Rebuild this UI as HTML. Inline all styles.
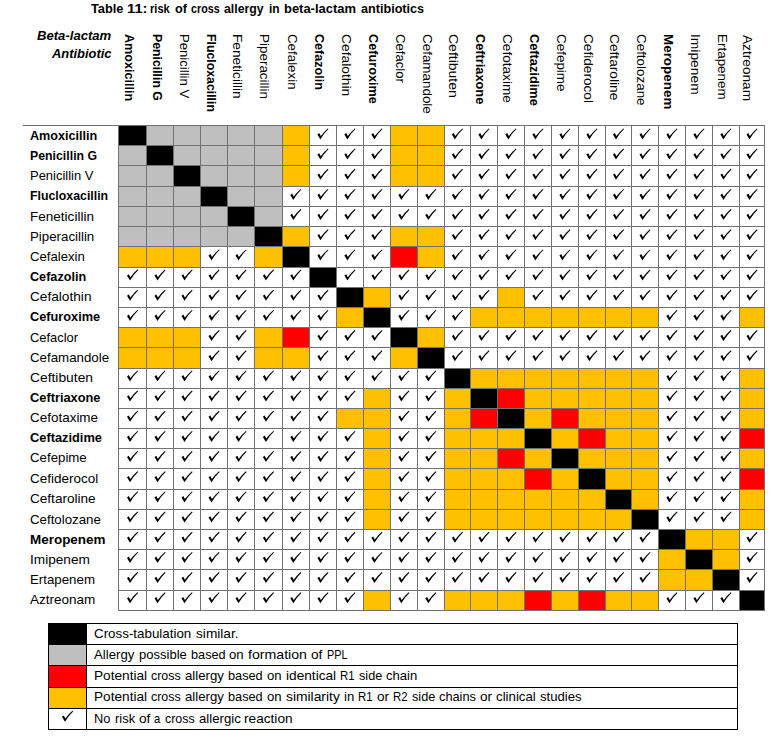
<!DOCTYPE html>
<html><head><meta charset="utf-8"><title>Table 11</title>
<style>
html,body{margin:0;padding:0;background:#fff}
body{width:775px;height:741px;position:relative;overflow:hidden;font-family:"Liberation Sans",sans-serif;font-size:13px;line-height:15px;color:#000}
.t{position:absolute;white-space:nowrap;transform-origin:0 0}
.b{font-weight:bold}
.bi{font-weight:bold;font-style:italic}
svg{position:absolute;left:0;top:0}
</style></head><body>
<svg width="775" height="741" viewBox="0 0 775 741">
<defs><path id="ck" d="M0 5.7 L1.8 4.4 L3.4 7.4 Q6.7 2.9 10.4 -0.3 L11.1 0.4 Q6.9 4.3 3.0 10.7 Z"/></defs>
<g shape-rendering="crispEdges">
<rect x="119" y="126" width="27" height="19" fill="#000"/>
<rect x="147" y="126" width="26" height="19" fill="#bfbfbf"/>
<rect x="174" y="126" width="26" height="19" fill="#bfbfbf"/>
<rect x="201" y="126" width="26" height="19" fill="#bfbfbf"/>
<rect x="228" y="126" width="26" height="19" fill="#bfbfbf"/>
<rect x="255" y="126" width="27" height="19" fill="#bfbfbf"/>
<rect x="283" y="126" width="26" height="19" fill="#ffc000"/>
<rect x="391" y="126" width="26" height="19" fill="#ffc000"/>
<rect x="418" y="126" width="26" height="19" fill="#ffc000"/>
<rect x="119" y="146" width="27" height="19" fill="#bfbfbf"/>
<rect x="147" y="146" width="26" height="19" fill="#000"/>
<rect x="174" y="146" width="26" height="19" fill="#bfbfbf"/>
<rect x="201" y="146" width="26" height="19" fill="#bfbfbf"/>
<rect x="228" y="146" width="26" height="19" fill="#bfbfbf"/>
<rect x="255" y="146" width="27" height="19" fill="#bfbfbf"/>
<rect x="283" y="146" width="26" height="19" fill="#ffc000"/>
<rect x="391" y="146" width="26" height="19" fill="#ffc000"/>
<rect x="418" y="146" width="26" height="19" fill="#ffc000"/>
<rect x="119" y="166" width="27" height="20" fill="#bfbfbf"/>
<rect x="147" y="166" width="26" height="20" fill="#bfbfbf"/>
<rect x="174" y="166" width="26" height="20" fill="#000"/>
<rect x="201" y="166" width="26" height="20" fill="#bfbfbf"/>
<rect x="228" y="166" width="26" height="20" fill="#bfbfbf"/>
<rect x="255" y="166" width="27" height="20" fill="#bfbfbf"/>
<rect x="283" y="166" width="26" height="20" fill="#ffc000"/>
<rect x="391" y="166" width="26" height="20" fill="#ffc000"/>
<rect x="418" y="166" width="26" height="20" fill="#ffc000"/>
<rect x="119" y="187" width="27" height="19" fill="#bfbfbf"/>
<rect x="147" y="187" width="26" height="19" fill="#bfbfbf"/>
<rect x="174" y="187" width="26" height="19" fill="#bfbfbf"/>
<rect x="201" y="187" width="26" height="19" fill="#000"/>
<rect x="228" y="187" width="26" height="19" fill="#bfbfbf"/>
<rect x="255" y="187" width="27" height="19" fill="#bfbfbf"/>
<rect x="119" y="207" width="27" height="19" fill="#bfbfbf"/>
<rect x="147" y="207" width="26" height="19" fill="#bfbfbf"/>
<rect x="174" y="207" width="26" height="19" fill="#bfbfbf"/>
<rect x="201" y="207" width="26" height="19" fill="#bfbfbf"/>
<rect x="228" y="207" width="26" height="19" fill="#000"/>
<rect x="255" y="207" width="27" height="19" fill="#bfbfbf"/>
<rect x="119" y="227" width="27" height="19" fill="#bfbfbf"/>
<rect x="147" y="227" width="26" height="19" fill="#bfbfbf"/>
<rect x="174" y="227" width="26" height="19" fill="#bfbfbf"/>
<rect x="201" y="227" width="26" height="19" fill="#bfbfbf"/>
<rect x="228" y="227" width="26" height="19" fill="#bfbfbf"/>
<rect x="255" y="227" width="27" height="19" fill="#000"/>
<rect x="283" y="227" width="26" height="19" fill="#ffc000"/>
<rect x="391" y="227" width="26" height="19" fill="#ffc000"/>
<rect x="418" y="227" width="26" height="19" fill="#ffc000"/>
<rect x="119" y="247" width="27" height="20" fill="#ffc000"/>
<rect x="147" y="247" width="26" height="20" fill="#ffc000"/>
<rect x="174" y="247" width="26" height="20" fill="#ffc000"/>
<rect x="255" y="247" width="27" height="20" fill="#ffc000"/>
<rect x="283" y="247" width="26" height="20" fill="#000"/>
<rect x="391" y="247" width="26" height="20" fill="#ff0000"/>
<rect x="418" y="247" width="26" height="20" fill="#ffc000"/>
<rect x="310" y="268" width="26" height="19" fill="#000"/>
<rect x="337" y="288" width="26" height="19" fill="#000"/>
<rect x="364" y="288" width="26" height="19" fill="#ffc000"/>
<rect x="498" y="288" width="26" height="19" fill="#ffc000"/>
<rect x="337" y="308" width="26" height="19" fill="#ffc000"/>
<rect x="364" y="308" width="26" height="19" fill="#000"/>
<rect x="471" y="308" width="26" height="19" fill="#ffc000"/>
<rect x="498" y="308" width="26" height="19" fill="#ffc000"/>
<rect x="525" y="308" width="26" height="19" fill="#ffc000"/>
<rect x="552" y="308" width="26" height="19" fill="#ffc000"/>
<rect x="579" y="308" width="26" height="19" fill="#ffc000"/>
<rect x="606" y="308" width="25" height="19" fill="#ffc000"/>
<rect x="632" y="308" width="26" height="19" fill="#ffc000"/>
<rect x="740" y="308" width="24" height="19" fill="#ffc000"/>
<rect x="119" y="328" width="27" height="19" fill="#ffc000"/>
<rect x="147" y="328" width="26" height="19" fill="#ffc000"/>
<rect x="174" y="328" width="26" height="19" fill="#ffc000"/>
<rect x="255" y="328" width="27" height="19" fill="#ffc000"/>
<rect x="283" y="328" width="26" height="19" fill="#ff0000"/>
<rect x="391" y="328" width="26" height="19" fill="#000"/>
<rect x="418" y="328" width="26" height="19" fill="#ffc000"/>
<rect x="119" y="348" width="27" height="20" fill="#ffc000"/>
<rect x="147" y="348" width="26" height="20" fill="#ffc000"/>
<rect x="174" y="348" width="26" height="20" fill="#ffc000"/>
<rect x="255" y="348" width="27" height="20" fill="#ffc000"/>
<rect x="283" y="348" width="26" height="20" fill="#ffc000"/>
<rect x="391" y="348" width="26" height="20" fill="#ffc000"/>
<rect x="418" y="348" width="26" height="20" fill="#000"/>
<rect x="445" y="369" width="25" height="19" fill="#000"/>
<rect x="471" y="369" width="26" height="19" fill="#ffc000"/>
<rect x="498" y="369" width="26" height="19" fill="#ffc000"/>
<rect x="525" y="369" width="26" height="19" fill="#ffc000"/>
<rect x="552" y="369" width="26" height="19" fill="#ffc000"/>
<rect x="579" y="369" width="26" height="19" fill="#ffc000"/>
<rect x="606" y="369" width="25" height="19" fill="#ffc000"/>
<rect x="632" y="369" width="26" height="19" fill="#ffc000"/>
<rect x="740" y="369" width="24" height="19" fill="#ffc000"/>
<rect x="364" y="389" width="26" height="19" fill="#ffc000"/>
<rect x="445" y="389" width="25" height="19" fill="#ffc000"/>
<rect x="471" y="389" width="26" height="19" fill="#000"/>
<rect x="498" y="389" width="26" height="19" fill="#ff0000"/>
<rect x="525" y="389" width="26" height="19" fill="#ffc000"/>
<rect x="552" y="389" width="26" height="19" fill="#ffc000"/>
<rect x="579" y="389" width="26" height="19" fill="#ffc000"/>
<rect x="606" y="389" width="25" height="19" fill="#ffc000"/>
<rect x="632" y="389" width="26" height="19" fill="#ffc000"/>
<rect x="740" y="389" width="24" height="19" fill="#ffc000"/>
<rect x="337" y="409" width="26" height="19" fill="#ffc000"/>
<rect x="364" y="409" width="26" height="19" fill="#ffc000"/>
<rect x="445" y="409" width="25" height="19" fill="#ffc000"/>
<rect x="471" y="409" width="26" height="19" fill="#ff0000"/>
<rect x="498" y="409" width="26" height="19" fill="#000"/>
<rect x="525" y="409" width="26" height="19" fill="#ffc000"/>
<rect x="552" y="409" width="26" height="19" fill="#ff0000"/>
<rect x="579" y="409" width="26" height="19" fill="#ffc000"/>
<rect x="606" y="409" width="25" height="19" fill="#ffc000"/>
<rect x="632" y="409" width="26" height="19" fill="#ffc000"/>
<rect x="740" y="409" width="24" height="19" fill="#ffc000"/>
<rect x="364" y="429" width="26" height="19" fill="#ffc000"/>
<rect x="445" y="429" width="25" height="19" fill="#ffc000"/>
<rect x="471" y="429" width="26" height="19" fill="#ffc000"/>
<rect x="498" y="429" width="26" height="19" fill="#ffc000"/>
<rect x="525" y="429" width="26" height="19" fill="#000"/>
<rect x="552" y="429" width="26" height="19" fill="#ffc000"/>
<rect x="579" y="429" width="26" height="19" fill="#ff0000"/>
<rect x="606" y="429" width="25" height="19" fill="#ffc000"/>
<rect x="632" y="429" width="26" height="19" fill="#ffc000"/>
<rect x="740" y="429" width="24" height="19" fill="#ff0000"/>
<rect x="364" y="449" width="26" height="19" fill="#ffc000"/>
<rect x="445" y="449" width="25" height="19" fill="#ffc000"/>
<rect x="471" y="449" width="26" height="19" fill="#ffc000"/>
<rect x="498" y="449" width="26" height="19" fill="#ff0000"/>
<rect x="525" y="449" width="26" height="19" fill="#ffc000"/>
<rect x="552" y="449" width="26" height="19" fill="#000"/>
<rect x="579" y="449" width="26" height="19" fill="#ffc000"/>
<rect x="606" y="449" width="25" height="19" fill="#ffc000"/>
<rect x="632" y="449" width="26" height="19" fill="#ffc000"/>
<rect x="740" y="449" width="24" height="19" fill="#ffc000"/>
<rect x="364" y="469" width="26" height="20" fill="#ffc000"/>
<rect x="445" y="469" width="25" height="20" fill="#ffc000"/>
<rect x="471" y="469" width="26" height="20" fill="#ffc000"/>
<rect x="498" y="469" width="26" height="20" fill="#ffc000"/>
<rect x="525" y="469" width="26" height="20" fill="#ff0000"/>
<rect x="552" y="469" width="26" height="20" fill="#ffc000"/>
<rect x="579" y="469" width="26" height="20" fill="#000"/>
<rect x="606" y="469" width="25" height="20" fill="#ffc000"/>
<rect x="632" y="469" width="26" height="20" fill="#ffc000"/>
<rect x="740" y="469" width="24" height="20" fill="#ff0000"/>
<rect x="364" y="490" width="26" height="19" fill="#ffc000"/>
<rect x="445" y="490" width="25" height="19" fill="#ffc000"/>
<rect x="471" y="490" width="26" height="19" fill="#ffc000"/>
<rect x="498" y="490" width="26" height="19" fill="#ffc000"/>
<rect x="525" y="490" width="26" height="19" fill="#ffc000"/>
<rect x="552" y="490" width="26" height="19" fill="#ffc000"/>
<rect x="579" y="490" width="26" height="19" fill="#ffc000"/>
<rect x="606" y="490" width="25" height="19" fill="#000"/>
<rect x="632" y="490" width="26" height="19" fill="#ffc000"/>
<rect x="740" y="490" width="24" height="19" fill="#ffc000"/>
<rect x="364" y="510" width="26" height="19" fill="#ffc000"/>
<rect x="445" y="510" width="25" height="19" fill="#ffc000"/>
<rect x="471" y="510" width="26" height="19" fill="#ffc000"/>
<rect x="498" y="510" width="26" height="19" fill="#ffc000"/>
<rect x="525" y="510" width="26" height="19" fill="#ffc000"/>
<rect x="552" y="510" width="26" height="19" fill="#ffc000"/>
<rect x="579" y="510" width="26" height="19" fill="#ffc000"/>
<rect x="606" y="510" width="25" height="19" fill="#ffc000"/>
<rect x="632" y="510" width="26" height="19" fill="#000"/>
<rect x="740" y="510" width="24" height="19" fill="#ffc000"/>
<rect x="659" y="530" width="26" height="19" fill="#000"/>
<rect x="686" y="530" width="26" height="19" fill="#ffc000"/>
<rect x="713" y="530" width="26" height="19" fill="#ffc000"/>
<rect x="659" y="550" width="26" height="19" fill="#ffc000"/>
<rect x="686" y="550" width="26" height="19" fill="#000"/>
<rect x="713" y="550" width="26" height="19" fill="#ffc000"/>
<rect x="659" y="570" width="26" height="20" fill="#ffc000"/>
<rect x="686" y="570" width="26" height="20" fill="#ffc000"/>
<rect x="713" y="570" width="26" height="20" fill="#000"/>
<rect x="364" y="591" width="26" height="19" fill="#ffc000"/>
<rect x="445" y="591" width="25" height="19" fill="#ffc000"/>
<rect x="471" y="591" width="26" height="19" fill="#ffc000"/>
<rect x="498" y="591" width="26" height="19" fill="#ffc000"/>
<rect x="525" y="591" width="26" height="19" fill="#ff0000"/>
<rect x="552" y="591" width="26" height="19" fill="#ffc000"/>
<rect x="579" y="591" width="26" height="19" fill="#ff0000"/>
<rect x="606" y="591" width="25" height="19" fill="#ffc000"/>
<rect x="632" y="591" width="26" height="19" fill="#ffc000"/>
<rect x="740" y="591" width="24" height="19" fill="#000"/>
<rect x="118" y="125" width="1" height="486" fill="#727272"/>
<rect x="146" y="125" width="1" height="486" fill="#727272"/>
<rect x="173" y="125" width="1" height="486" fill="#727272"/>
<rect x="200" y="125" width="1" height="486" fill="#727272"/>
<rect x="227" y="125" width="1" height="486" fill="#727272"/>
<rect x="254" y="125" width="1" height="486" fill="#727272"/>
<rect x="282" y="125" width="1" height="486" fill="#727272"/>
<rect x="309" y="125" width="1" height="486" fill="#727272"/>
<rect x="336" y="125" width="1" height="486" fill="#727272"/>
<rect x="363" y="125" width="1" height="486" fill="#727272"/>
<rect x="390" y="125" width="1" height="486" fill="#727272"/>
<rect x="417" y="125" width="1" height="486" fill="#727272"/>
<rect x="444" y="125" width="1" height="486" fill="#727272"/>
<rect x="470" y="125" width="1" height="486" fill="#727272"/>
<rect x="497" y="125" width="1" height="486" fill="#727272"/>
<rect x="524" y="125" width="1" height="486" fill="#727272"/>
<rect x="551" y="125" width="1" height="486" fill="#727272"/>
<rect x="578" y="125" width="1" height="486" fill="#727272"/>
<rect x="605" y="125" width="1" height="486" fill="#727272"/>
<rect x="631" y="125" width="1" height="486" fill="#727272"/>
<rect x="658" y="125" width="1" height="486" fill="#727272"/>
<rect x="685" y="125" width="1" height="486" fill="#727272"/>
<rect x="712" y="125" width="1" height="486" fill="#727272"/>
<rect x="739" y="125" width="1" height="486" fill="#727272"/>
<rect x="764" y="125" width="1" height="486" fill="#727272"/>
<rect x="23" y="125" width="742" height="1" fill="#727272"/>
<rect x="118" y="145" width="647" height="1" fill="#727272"/>
<rect x="118" y="165" width="647" height="1" fill="#727272"/>
<rect x="118" y="186" width="647" height="1" fill="#727272"/>
<rect x="118" y="206" width="647" height="1" fill="#727272"/>
<rect x="118" y="226" width="647" height="1" fill="#727272"/>
<rect x="118" y="246" width="647" height="1" fill="#727272"/>
<rect x="118" y="267" width="647" height="1" fill="#727272"/>
<rect x="118" y="287" width="647" height="1" fill="#727272"/>
<rect x="118" y="307" width="647" height="1" fill="#727272"/>
<rect x="118" y="327" width="647" height="1" fill="#727272"/>
<rect x="118" y="347" width="647" height="1" fill="#727272"/>
<rect x="118" y="368" width="647" height="1" fill="#727272"/>
<rect x="118" y="388" width="647" height="1" fill="#727272"/>
<rect x="118" y="408" width="647" height="1" fill="#727272"/>
<rect x="118" y="428" width="647" height="1" fill="#727272"/>
<rect x="118" y="448" width="647" height="1" fill="#727272"/>
<rect x="118" y="468" width="647" height="1" fill="#727272"/>
<rect x="118" y="489" width="647" height="1" fill="#727272"/>
<rect x="118" y="509" width="647" height="1" fill="#727272"/>
<rect x="118" y="529" width="647" height="1" fill="#727272"/>
<rect x="118" y="549" width="647" height="1" fill="#727272"/>
<rect x="118" y="569" width="647" height="1" fill="#727272"/>
<rect x="118" y="590" width="647" height="1" fill="#727272"/>
<rect x="118" y="610" width="647" height="1" fill="#727272"/>
<rect x="49" y="624" width="37" height="20" fill="#000"/>
<rect x="49" y="645" width="37" height="20" fill="#bfbfbf"/>
<rect x="49" y="666" width="37" height="21" fill="#ff0000"/>
<rect x="49" y="688" width="37" height="20" fill="#ffc000"/>
<rect x="48" y="623" width="1" height="107" fill="#000"/>
<rect x="86" y="623" width="1" height="107" fill="#000"/>
<rect x="737" y="623" width="1" height="107" fill="#000"/>
<rect x="48" y="623" width="690" height="1" fill="#000"/>
<rect x="48" y="644" width="690" height="1" fill="#000"/>
<rect x="48" y="665" width="690" height="1" fill="#000"/>
<rect x="48" y="687" width="690" height="1" fill="#000"/>
<rect x="48" y="708" width="690" height="1" fill="#000"/>
<rect x="48" y="729" width="690" height="1" fill="#000"/>
</g>
<g fill="#000">
<use href="#ck" x="317.4" y="128.7"/>
<use href="#ck" x="344.4" y="128.7"/>
<use href="#ck" x="371.4" y="128.7"/>
<use href="#ck" x="451.9" y="128.7"/>
<use href="#ck" x="478.4" y="128.7"/>
<use href="#ck" x="505.4" y="128.7"/>
<use href="#ck" x="532.4" y="128.7"/>
<use href="#ck" x="559.4" y="128.7"/>
<use href="#ck" x="586.4" y="128.7"/>
<use href="#ck" x="613.0" y="128.7"/>
<use href="#ck" x="639.5" y="128.7"/>
<use href="#ck" x="666.4" y="128.7"/>
<use href="#ck" x="693.4" y="128.7"/>
<use href="#ck" x="720.4" y="128.7"/>
<use href="#ck" x="746.5" y="128.7"/>
<use href="#ck" x="317.4" y="148.9"/>
<use href="#ck" x="344.4" y="148.9"/>
<use href="#ck" x="371.4" y="148.9"/>
<use href="#ck" x="451.9" y="148.9"/>
<use href="#ck" x="478.4" y="148.9"/>
<use href="#ck" x="505.4" y="148.9"/>
<use href="#ck" x="532.4" y="148.9"/>
<use href="#ck" x="559.4" y="148.9"/>
<use href="#ck" x="586.4" y="148.9"/>
<use href="#ck" x="613.0" y="148.9"/>
<use href="#ck" x="639.5" y="148.9"/>
<use href="#ck" x="666.4" y="148.9"/>
<use href="#ck" x="693.4" y="148.9"/>
<use href="#ck" x="720.4" y="148.9"/>
<use href="#ck" x="746.5" y="148.9"/>
<use href="#ck" x="317.4" y="169.0"/>
<use href="#ck" x="344.4" y="169.0"/>
<use href="#ck" x="371.4" y="169.0"/>
<use href="#ck" x="451.9" y="169.0"/>
<use href="#ck" x="478.4" y="169.0"/>
<use href="#ck" x="505.4" y="169.0"/>
<use href="#ck" x="532.4" y="169.0"/>
<use href="#ck" x="559.4" y="169.0"/>
<use href="#ck" x="586.4" y="169.0"/>
<use href="#ck" x="613.0" y="169.0"/>
<use href="#ck" x="639.5" y="169.0"/>
<use href="#ck" x="666.4" y="169.0"/>
<use href="#ck" x="693.4" y="169.0"/>
<use href="#ck" x="720.4" y="169.0"/>
<use href="#ck" x="746.5" y="169.0"/>
<use href="#ck" x="290.3" y="189.2"/>
<use href="#ck" x="317.4" y="189.2"/>
<use href="#ck" x="344.4" y="189.2"/>
<use href="#ck" x="371.4" y="189.2"/>
<use href="#ck" x="398.3" y="189.2"/>
<use href="#ck" x="425.3" y="189.2"/>
<use href="#ck" x="451.9" y="189.2"/>
<use href="#ck" x="478.4" y="189.2"/>
<use href="#ck" x="505.4" y="189.2"/>
<use href="#ck" x="532.4" y="189.2"/>
<use href="#ck" x="559.4" y="189.2"/>
<use href="#ck" x="586.4" y="189.2"/>
<use href="#ck" x="613.0" y="189.2"/>
<use href="#ck" x="639.5" y="189.2"/>
<use href="#ck" x="666.4" y="189.2"/>
<use href="#ck" x="693.4" y="189.2"/>
<use href="#ck" x="720.4" y="189.2"/>
<use href="#ck" x="746.5" y="189.2"/>
<use href="#ck" x="290.3" y="209.4"/>
<use href="#ck" x="317.4" y="209.4"/>
<use href="#ck" x="344.4" y="209.4"/>
<use href="#ck" x="371.4" y="209.4"/>
<use href="#ck" x="398.3" y="209.4"/>
<use href="#ck" x="425.3" y="209.4"/>
<use href="#ck" x="451.9" y="209.4"/>
<use href="#ck" x="478.4" y="209.4"/>
<use href="#ck" x="505.4" y="209.4"/>
<use href="#ck" x="532.4" y="209.4"/>
<use href="#ck" x="559.4" y="209.4"/>
<use href="#ck" x="586.4" y="209.4"/>
<use href="#ck" x="613.0" y="209.4"/>
<use href="#ck" x="639.5" y="209.4"/>
<use href="#ck" x="666.4" y="209.4"/>
<use href="#ck" x="693.4" y="209.4"/>
<use href="#ck" x="720.4" y="209.4"/>
<use href="#ck" x="746.5" y="209.4"/>
<use href="#ck" x="317.4" y="229.5"/>
<use href="#ck" x="344.4" y="229.5"/>
<use href="#ck" x="371.4" y="229.5"/>
<use href="#ck" x="451.9" y="229.5"/>
<use href="#ck" x="478.4" y="229.5"/>
<use href="#ck" x="505.4" y="229.5"/>
<use href="#ck" x="532.4" y="229.5"/>
<use href="#ck" x="559.4" y="229.5"/>
<use href="#ck" x="586.4" y="229.5"/>
<use href="#ck" x="613.0" y="229.5"/>
<use href="#ck" x="639.5" y="229.5"/>
<use href="#ck" x="666.4" y="229.5"/>
<use href="#ck" x="693.4" y="229.5"/>
<use href="#ck" x="720.4" y="229.5"/>
<use href="#ck" x="746.5" y="229.5"/>
<use href="#ck" x="208.5" y="249.7"/>
<use href="#ck" x="235.5" y="249.7"/>
<use href="#ck" x="317.4" y="249.7"/>
<use href="#ck" x="344.4" y="249.7"/>
<use href="#ck" x="371.4" y="249.7"/>
<use href="#ck" x="451.9" y="249.7"/>
<use href="#ck" x="478.4" y="249.7"/>
<use href="#ck" x="505.4" y="249.7"/>
<use href="#ck" x="532.4" y="249.7"/>
<use href="#ck" x="559.4" y="249.7"/>
<use href="#ck" x="586.4" y="249.7"/>
<use href="#ck" x="613.0" y="249.7"/>
<use href="#ck" x="639.5" y="249.7"/>
<use href="#ck" x="666.4" y="249.7"/>
<use href="#ck" x="693.4" y="249.7"/>
<use href="#ck" x="720.4" y="249.7"/>
<use href="#ck" x="746.5" y="249.7"/>
<use href="#ck" x="127.0" y="269.9"/>
<use href="#ck" x="154.5" y="269.9"/>
<use href="#ck" x="181.5" y="269.9"/>
<use href="#ck" x="208.5" y="269.9"/>
<use href="#ck" x="235.5" y="269.9"/>
<use href="#ck" x="262.9" y="269.9"/>
<use href="#ck" x="290.3" y="269.9"/>
<use href="#ck" x="344.4" y="269.9"/>
<use href="#ck" x="371.4" y="269.9"/>
<use href="#ck" x="398.3" y="269.9"/>
<use href="#ck" x="425.3" y="269.9"/>
<use href="#ck" x="451.9" y="269.9"/>
<use href="#ck" x="478.4" y="269.9"/>
<use href="#ck" x="505.4" y="269.9"/>
<use href="#ck" x="532.4" y="269.9"/>
<use href="#ck" x="559.4" y="269.9"/>
<use href="#ck" x="586.4" y="269.9"/>
<use href="#ck" x="613.0" y="269.9"/>
<use href="#ck" x="639.5" y="269.9"/>
<use href="#ck" x="666.4" y="269.9"/>
<use href="#ck" x="693.4" y="269.9"/>
<use href="#ck" x="720.4" y="269.9"/>
<use href="#ck" x="746.5" y="269.9"/>
<use href="#ck" x="127.0" y="290.0"/>
<use href="#ck" x="154.5" y="290.0"/>
<use href="#ck" x="181.5" y="290.0"/>
<use href="#ck" x="208.5" y="290.0"/>
<use href="#ck" x="235.5" y="290.0"/>
<use href="#ck" x="262.9" y="290.0"/>
<use href="#ck" x="290.3" y="290.0"/>
<use href="#ck" x="317.4" y="290.0"/>
<use href="#ck" x="398.3" y="290.0"/>
<use href="#ck" x="425.3" y="290.0"/>
<use href="#ck" x="451.9" y="290.0"/>
<use href="#ck" x="478.4" y="290.0"/>
<use href="#ck" x="532.4" y="290.0"/>
<use href="#ck" x="559.4" y="290.0"/>
<use href="#ck" x="586.4" y="290.0"/>
<use href="#ck" x="613.0" y="290.0"/>
<use href="#ck" x="639.5" y="290.0"/>
<use href="#ck" x="666.4" y="290.0"/>
<use href="#ck" x="693.4" y="290.0"/>
<use href="#ck" x="720.4" y="290.0"/>
<use href="#ck" x="746.5" y="290.0"/>
<use href="#ck" x="127.0" y="310.2"/>
<use href="#ck" x="154.5" y="310.2"/>
<use href="#ck" x="181.5" y="310.2"/>
<use href="#ck" x="208.5" y="310.2"/>
<use href="#ck" x="235.5" y="310.2"/>
<use href="#ck" x="262.9" y="310.2"/>
<use href="#ck" x="290.3" y="310.2"/>
<use href="#ck" x="317.4" y="310.2"/>
<use href="#ck" x="398.3" y="310.2"/>
<use href="#ck" x="425.3" y="310.2"/>
<use href="#ck" x="451.9" y="310.2"/>
<use href="#ck" x="666.4" y="310.2"/>
<use href="#ck" x="693.4" y="310.2"/>
<use href="#ck" x="720.4" y="310.2"/>
<use href="#ck" x="208.5" y="330.4"/>
<use href="#ck" x="235.5" y="330.4"/>
<use href="#ck" x="317.4" y="330.4"/>
<use href="#ck" x="344.4" y="330.4"/>
<use href="#ck" x="371.4" y="330.4"/>
<use href="#ck" x="451.9" y="330.4"/>
<use href="#ck" x="478.4" y="330.4"/>
<use href="#ck" x="505.4" y="330.4"/>
<use href="#ck" x="532.4" y="330.4"/>
<use href="#ck" x="559.4" y="330.4"/>
<use href="#ck" x="586.4" y="330.4"/>
<use href="#ck" x="613.0" y="330.4"/>
<use href="#ck" x="639.5" y="330.4"/>
<use href="#ck" x="666.4" y="330.4"/>
<use href="#ck" x="693.4" y="330.4"/>
<use href="#ck" x="720.4" y="330.4"/>
<use href="#ck" x="746.5" y="330.4"/>
<use href="#ck" x="208.5" y="350.5"/>
<use href="#ck" x="235.5" y="350.5"/>
<use href="#ck" x="317.4" y="350.5"/>
<use href="#ck" x="344.4" y="350.5"/>
<use href="#ck" x="371.4" y="350.5"/>
<use href="#ck" x="451.9" y="350.5"/>
<use href="#ck" x="478.4" y="350.5"/>
<use href="#ck" x="505.4" y="350.5"/>
<use href="#ck" x="532.4" y="350.5"/>
<use href="#ck" x="559.4" y="350.5"/>
<use href="#ck" x="586.4" y="350.5"/>
<use href="#ck" x="613.0" y="350.5"/>
<use href="#ck" x="639.5" y="350.5"/>
<use href="#ck" x="666.4" y="350.5"/>
<use href="#ck" x="693.4" y="350.5"/>
<use href="#ck" x="720.4" y="350.5"/>
<use href="#ck" x="746.5" y="350.5"/>
<use href="#ck" x="127.0" y="370.7"/>
<use href="#ck" x="154.5" y="370.7"/>
<use href="#ck" x="181.5" y="370.7"/>
<use href="#ck" x="208.5" y="370.7"/>
<use href="#ck" x="235.5" y="370.7"/>
<use href="#ck" x="262.9" y="370.7"/>
<use href="#ck" x="290.3" y="370.7"/>
<use href="#ck" x="317.4" y="370.7"/>
<use href="#ck" x="344.4" y="370.7"/>
<use href="#ck" x="371.4" y="370.7"/>
<use href="#ck" x="398.3" y="370.7"/>
<use href="#ck" x="425.3" y="370.7"/>
<use href="#ck" x="666.4" y="370.7"/>
<use href="#ck" x="693.4" y="370.7"/>
<use href="#ck" x="720.4" y="370.7"/>
<use href="#ck" x="127.0" y="390.9"/>
<use href="#ck" x="154.5" y="390.9"/>
<use href="#ck" x="181.5" y="390.9"/>
<use href="#ck" x="208.5" y="390.9"/>
<use href="#ck" x="235.5" y="390.9"/>
<use href="#ck" x="262.9" y="390.9"/>
<use href="#ck" x="290.3" y="390.9"/>
<use href="#ck" x="317.4" y="390.9"/>
<use href="#ck" x="344.4" y="390.9"/>
<use href="#ck" x="398.3" y="390.9"/>
<use href="#ck" x="425.3" y="390.9"/>
<use href="#ck" x="666.4" y="390.9"/>
<use href="#ck" x="693.4" y="390.9"/>
<use href="#ck" x="720.4" y="390.9"/>
<use href="#ck" x="127.0" y="411.0"/>
<use href="#ck" x="154.5" y="411.0"/>
<use href="#ck" x="181.5" y="411.0"/>
<use href="#ck" x="208.5" y="411.0"/>
<use href="#ck" x="235.5" y="411.0"/>
<use href="#ck" x="262.9" y="411.0"/>
<use href="#ck" x="290.3" y="411.0"/>
<use href="#ck" x="317.4" y="411.0"/>
<use href="#ck" x="398.3" y="411.0"/>
<use href="#ck" x="425.3" y="411.0"/>
<use href="#ck" x="666.4" y="411.0"/>
<use href="#ck" x="693.4" y="411.0"/>
<use href="#ck" x="720.4" y="411.0"/>
<use href="#ck" x="127.0" y="431.2"/>
<use href="#ck" x="154.5" y="431.2"/>
<use href="#ck" x="181.5" y="431.2"/>
<use href="#ck" x="208.5" y="431.2"/>
<use href="#ck" x="235.5" y="431.2"/>
<use href="#ck" x="262.9" y="431.2"/>
<use href="#ck" x="290.3" y="431.2"/>
<use href="#ck" x="317.4" y="431.2"/>
<use href="#ck" x="344.4" y="431.2"/>
<use href="#ck" x="398.3" y="431.2"/>
<use href="#ck" x="425.3" y="431.2"/>
<use href="#ck" x="666.4" y="431.2"/>
<use href="#ck" x="693.4" y="431.2"/>
<use href="#ck" x="720.4" y="431.2"/>
<use href="#ck" x="127.0" y="451.4"/>
<use href="#ck" x="154.5" y="451.4"/>
<use href="#ck" x="181.5" y="451.4"/>
<use href="#ck" x="208.5" y="451.4"/>
<use href="#ck" x="235.5" y="451.4"/>
<use href="#ck" x="262.9" y="451.4"/>
<use href="#ck" x="290.3" y="451.4"/>
<use href="#ck" x="317.4" y="451.4"/>
<use href="#ck" x="344.4" y="451.4"/>
<use href="#ck" x="398.3" y="451.4"/>
<use href="#ck" x="425.3" y="451.4"/>
<use href="#ck" x="666.4" y="451.4"/>
<use href="#ck" x="693.4" y="451.4"/>
<use href="#ck" x="720.4" y="451.4"/>
<use href="#ck" x="127.0" y="471.5"/>
<use href="#ck" x="154.5" y="471.5"/>
<use href="#ck" x="181.5" y="471.5"/>
<use href="#ck" x="208.5" y="471.5"/>
<use href="#ck" x="235.5" y="471.5"/>
<use href="#ck" x="262.9" y="471.5"/>
<use href="#ck" x="290.3" y="471.5"/>
<use href="#ck" x="317.4" y="471.5"/>
<use href="#ck" x="344.4" y="471.5"/>
<use href="#ck" x="398.3" y="471.5"/>
<use href="#ck" x="425.3" y="471.5"/>
<use href="#ck" x="666.4" y="471.5"/>
<use href="#ck" x="693.4" y="471.5"/>
<use href="#ck" x="720.4" y="471.5"/>
<use href="#ck" x="127.0" y="491.7"/>
<use href="#ck" x="154.5" y="491.7"/>
<use href="#ck" x="181.5" y="491.7"/>
<use href="#ck" x="208.5" y="491.7"/>
<use href="#ck" x="235.5" y="491.7"/>
<use href="#ck" x="262.9" y="491.7"/>
<use href="#ck" x="290.3" y="491.7"/>
<use href="#ck" x="317.4" y="491.7"/>
<use href="#ck" x="344.4" y="491.7"/>
<use href="#ck" x="398.3" y="491.7"/>
<use href="#ck" x="425.3" y="491.7"/>
<use href="#ck" x="666.4" y="491.7"/>
<use href="#ck" x="693.4" y="491.7"/>
<use href="#ck" x="720.4" y="491.7"/>
<use href="#ck" x="127.0" y="511.9"/>
<use href="#ck" x="154.5" y="511.9"/>
<use href="#ck" x="181.5" y="511.9"/>
<use href="#ck" x="208.5" y="511.9"/>
<use href="#ck" x="235.5" y="511.9"/>
<use href="#ck" x="262.9" y="511.9"/>
<use href="#ck" x="290.3" y="511.9"/>
<use href="#ck" x="317.4" y="511.9"/>
<use href="#ck" x="344.4" y="511.9"/>
<use href="#ck" x="398.3" y="511.9"/>
<use href="#ck" x="425.3" y="511.9"/>
<use href="#ck" x="666.4" y="511.9"/>
<use href="#ck" x="693.4" y="511.9"/>
<use href="#ck" x="720.4" y="511.9"/>
<use href="#ck" x="127.0" y="532.0"/>
<use href="#ck" x="154.5" y="532.0"/>
<use href="#ck" x="181.5" y="532.0"/>
<use href="#ck" x="208.5" y="532.0"/>
<use href="#ck" x="235.5" y="532.0"/>
<use href="#ck" x="262.9" y="532.0"/>
<use href="#ck" x="290.3" y="532.0"/>
<use href="#ck" x="317.4" y="532.0"/>
<use href="#ck" x="344.4" y="532.0"/>
<use href="#ck" x="371.4" y="532.0"/>
<use href="#ck" x="398.3" y="532.0"/>
<use href="#ck" x="425.3" y="532.0"/>
<use href="#ck" x="451.9" y="532.0"/>
<use href="#ck" x="478.4" y="532.0"/>
<use href="#ck" x="505.4" y="532.0"/>
<use href="#ck" x="532.4" y="532.0"/>
<use href="#ck" x="559.4" y="532.0"/>
<use href="#ck" x="586.4" y="532.0"/>
<use href="#ck" x="613.0" y="532.0"/>
<use href="#ck" x="639.5" y="532.0"/>
<use href="#ck" x="746.5" y="532.0"/>
<use href="#ck" x="127.0" y="552.2"/>
<use href="#ck" x="154.5" y="552.2"/>
<use href="#ck" x="181.5" y="552.2"/>
<use href="#ck" x="208.5" y="552.2"/>
<use href="#ck" x="235.5" y="552.2"/>
<use href="#ck" x="262.9" y="552.2"/>
<use href="#ck" x="290.3" y="552.2"/>
<use href="#ck" x="317.4" y="552.2"/>
<use href="#ck" x="344.4" y="552.2"/>
<use href="#ck" x="371.4" y="552.2"/>
<use href="#ck" x="398.3" y="552.2"/>
<use href="#ck" x="425.3" y="552.2"/>
<use href="#ck" x="451.9" y="552.2"/>
<use href="#ck" x="478.4" y="552.2"/>
<use href="#ck" x="505.4" y="552.2"/>
<use href="#ck" x="532.4" y="552.2"/>
<use href="#ck" x="559.4" y="552.2"/>
<use href="#ck" x="586.4" y="552.2"/>
<use href="#ck" x="613.0" y="552.2"/>
<use href="#ck" x="639.5" y="552.2"/>
<use href="#ck" x="746.5" y="552.2"/>
<use href="#ck" x="127.0" y="572.4"/>
<use href="#ck" x="154.5" y="572.4"/>
<use href="#ck" x="181.5" y="572.4"/>
<use href="#ck" x="208.5" y="572.4"/>
<use href="#ck" x="235.5" y="572.4"/>
<use href="#ck" x="262.9" y="572.4"/>
<use href="#ck" x="290.3" y="572.4"/>
<use href="#ck" x="317.4" y="572.4"/>
<use href="#ck" x="344.4" y="572.4"/>
<use href="#ck" x="371.4" y="572.4"/>
<use href="#ck" x="398.3" y="572.4"/>
<use href="#ck" x="425.3" y="572.4"/>
<use href="#ck" x="451.9" y="572.4"/>
<use href="#ck" x="478.4" y="572.4"/>
<use href="#ck" x="505.4" y="572.4"/>
<use href="#ck" x="532.4" y="572.4"/>
<use href="#ck" x="559.4" y="572.4"/>
<use href="#ck" x="586.4" y="572.4"/>
<use href="#ck" x="613.0" y="572.4"/>
<use href="#ck" x="639.5" y="572.4"/>
<use href="#ck" x="746.5" y="572.4"/>
<use href="#ck" x="127.0" y="592.5"/>
<use href="#ck" x="154.5" y="592.5"/>
<use href="#ck" x="181.5" y="592.5"/>
<use href="#ck" x="208.5" y="592.5"/>
<use href="#ck" x="235.5" y="592.5"/>
<use href="#ck" x="262.9" y="592.5"/>
<use href="#ck" x="290.3" y="592.5"/>
<use href="#ck" x="317.4" y="592.5"/>
<use href="#ck" x="344.4" y="592.5"/>
<use href="#ck" x="398.3" y="592.5"/>
<use href="#ck" x="425.3" y="592.5"/>
<use href="#ck" x="666.4" y="592.5"/>
<use href="#ck" x="693.4" y="592.5"/>
<use href="#ck" x="720.4" y="592.5"/>
<use href="#ck" x="62.0" y="711.0"/>
</g></svg>
<div class="t b" style="left:91.28px;top:1px;transform:scaleX(0.9841)">Table</div>
<div class="t b" style="left:127.13px;top:1px;transform:scaleX(1.1327)">11:</div>
<div class="t b" style="left:149.99px;top:1px;transform:scaleX(0.8557)">risk</div>
<div class="t b" style="left:175.04px;top:1px;transform:scaleX(0.9769)">of</div>
<div class="t b" style="left:190.92px;top:1px;transform:scaleX(0.8256)">cross</div>
<div class="t b" style="left:223.83px;top:1px;transform:scaleX(0.9453)">allergy</div>
<div class="t b" style="left:269.03px;top:1px;transform:scaleX(0.9223)">in</div>
<div class="t b" style="left:284.28px;top:1px;transform:scaleX(0.9950)">beta-lactam</div>
<div class="t b" style="left:360.72px;top:1px;transform:scaleX(0.9710)">antibiotics</div>
<div class="t bi" style="left:36.91px;top:28px;transform:scaleX(1.0077)">Beta-lactam</div>
<div class="t bi" style="left:52.22px;top:46px;transform:scaleX(0.9936)">Antibiotic</div>
<div class="t b" style="left:29.69px;top:128px;transform:scaleX(0.9704)">Amoxicillin</div>
<div class="t b" style="left:137.20px;top:34.44px;transform:rotate(90deg) scaleX(0.9675)">Amoxicillin</div>
<div class="t b" style="left:29.82px;top:148px;transform:scaleX(0.9476)">Penicillin G</div>
<div class="t b" style="left:164.65px;top:34.17px;transform:rotate(90deg) scaleX(0.9447)">Penicillin G</div>
<div class="t " style="left:30.42px;top:168px;transform:scaleX(0.9977)">Penicillin V</div>
<div class="t " style="left:191.70px;top:33.75px;transform:rotate(90deg) scaleX(1.0098)">Penicillin V</div>
<div class="t b" style="left:29.81px;top:188px;transform:scaleX(0.9490)">Flucloxacillin</div>
<div class="t b" style="left:218.70px;top:34.17px;transform:rotate(90deg) scaleX(0.9466)">Flucloxacillin</div>
<div class="t " style="left:30.37px;top:209px;transform:scaleX(1.0413)">Feneticillin</div>
<div class="t " style="left:244.95px;top:33.70px;transform:rotate(90deg) scaleX(1.0539)">Feneticillin</div>
<div class="t " style="left:30.39px;top:229px;transform:scaleX(1.0223)">Piperacillin</div>
<div class="t " style="left:272.40px;top:33.72px;transform:rotate(90deg) scaleX(1.0345)">Piperacillin</div>
<div class="t " style="left:29.61px;top:249px;transform:scaleX(1.0106)">Cefalexin</div>
<div class="t " style="left:299.80px;top:34.25px;transform:rotate(90deg) scaleX(1.0248)">Cefalexin</div>
<div class="t b" style="left:29.74px;top:269px;transform:scaleX(0.9719)">Cefazolin</div>
<div class="t b" style="left:326.85px;top:34.39px;transform:rotate(90deg) scaleX(0.9684)">Cefazolin</div>
<div class="t " style="left:29.58px;top:289px;transform:scaleX(1.0501)">Cefalothin</div>
<div class="t " style="left:353.85px;top:34.22px;transform:rotate(90deg) scaleX(1.0633)">Cefalothin</div>
<div class="t b" style="left:29.74px;top:309px;transform:scaleX(0.9798)">Cefuroxime</div>
<div class="t b" style="left:380.85px;top:34.39px;transform:rotate(90deg) scaleX(0.9770)">Cefuroxime</div>
<div class="t " style="left:29.62px;top:330px;transform:scaleX(0.9935)">Cefaclor</div>
<div class="t " style="left:407.80px;top:34.26px;transform:rotate(90deg) scaleX(1.0092)">Cefaclor</div>
<div class="t " style="left:29.60px;top:350px;transform:scaleX(1.0223)">Cefamandole</div>
<div class="t " style="left:434.80px;top:34.24px;transform:rotate(90deg) scaleX(1.0321)">Cefamandole</div>
<div class="t " style="left:29.57px;top:370px;transform:scaleX(1.0634)">Ceftibuten</div>
<div class="t " style="left:461.35px;top:34.21px;transform:rotate(90deg) scaleX(1.0763)">Ceftibuten</div>
<div class="t b" style="left:30.03px;top:390px;transform:scaleX(0.9855)">Ceftriaxone</div>
<div class="t b" style="left:487.85px;top:34.38px;transform:rotate(90deg) scaleX(0.9827)">Ceftriaxone</div>
<div class="t " style="left:29.59px;top:410px;transform:scaleX(1.0353)">Cefotaxime</div>
<div class="t " style="left:514.85px;top:34.23px;transform:rotate(90deg) scaleX(1.0469)">Cefotaxime</div>
<div class="t b" style="left:30.03px;top:430px;transform:scaleX(0.9860)">Ceftazidime</div>
<div class="t b" style="left:541.90px;top:34.38px;transform:rotate(90deg) scaleX(0.9832)">Ceftazidime</div>
<div class="t " style="left:29.60px;top:450px;transform:scaleX(1.0198)">Cefepime</div>
<div class="t " style="left:568.88px;top:34.24px;transform:rotate(90deg) scaleX(1.0336)">Cefepime</div>
<div class="t " style="left:29.59px;top:471px;transform:scaleX(1.0372)">Cefiderocol</div>
<div class="t " style="left:595.83px;top:34.23px;transform:rotate(90deg) scaleX(1.0489)">Cefiderocol</div>
<div class="t " style="left:29.58px;top:491px;transform:scaleX(1.0435)">Ceftaroline</div>
<div class="t " style="left:622.45px;top:34.23px;transform:rotate(90deg) scaleX(1.0556)">Ceftaroline</div>
<div class="t " style="left:29.60px;top:512px;transform:scaleX(1.0208)">Ceftolozane</div>
<div class="t " style="left:648.93px;top:34.24px;transform:rotate(90deg) scaleX(1.0317)">Ceftolozane</div>
<div class="t b" style="left:29.74px;top:532px;transform:scaleX(1.0352)">Meropenem</div>
<div class="t b" style="left:675.83px;top:34.10px;transform:rotate(90deg) scaleX(1.0324)">Meropenem</div>
<div class="t " style="left:30.24px;top:552px;transform:scaleX(1.0486)">Imipenem</div>
<div class="t " style="left:702.85px;top:33.57px;transform:rotate(90deg) scaleX(1.0623)">Imipenem</div>
<div class="t " style="left:30.39px;top:572px;transform:scaleX(1.0213)">Ertapenem</div>
<div class="t " style="left:729.90px;top:33.73px;transform:rotate(90deg) scaleX(1.0335)">Ertapenem</div>
<div class="t " style="left:29.86px;top:592px;transform:scaleX(1.0392)">Aztreonam</div>
<div class="t " style="left:755.20px;top:34.61px;transform:rotate(90deg) scaleX(1.0514)">Aztreonam</div>
<div class="t" style="left:94.10px;top:626px;transform:scaleX(1.0279)">Cross-tabulation</div>
<div class="t" style="left:195.51px;top:626px;transform:scaleX(1.0529)">similar.</div>
<div class="t" style="left:94.10px;top:647px;transform:scaleX(1.0157)">Allergy</div>
<div class="t" style="left:138.59px;top:647px;transform:scaleX(1.0031)">possible</div>
<div class="t" style="left:190.55px;top:647px;transform:scaleX(0.9788)">based</div>
<div class="t" style="left:229.34px;top:647px;transform:scaleX(1.0119)">on</div>
<div class="t" style="left:248.10px;top:647px;transform:scaleX(1.0882)">formation</div>
<div class="t" style="left:311.20px;top:647px;transform:scaleX(1.0523)">of</div>
<div class="t" style="left:326.72px;top:647px;transform:scaleX(0.8349)">PPL</div>
<div class="t" style="left:94.10px;top:668px;transform:scaleX(1.0495)">Potential</div>
<div class="t" style="left:151.31px;top:668px;transform:scaleX(0.9569)">cross</div>
<div class="t" style="left:185.15px;top:668px;transform:scaleX(1.0160)">allergy</div>
<div class="t" style="left:228.18px;top:668px;transform:scaleX(0.9788)">based</div>
<div class="t" style="left:266.97px;top:668px;transform:scaleX(1.0119)">on</div>
<div class="t" style="left:285.72px;top:668px;transform:scaleX(1.0512)">identical</div>
<div class="t" style="left:339.99px;top:668px;transform:scaleX(0.8780)">R1</div>
<div class="t" style="left:358.70px;top:668px;transform:scaleX(0.9768)">side</div>
<div class="t" style="left:386.12px;top:668px;transform:scaleX(1.0041)">chain</div>
<div class="t" style="left:94.10px;top:689px;transform:scaleX(1.0495)">Potential</div>
<div class="t" style="left:151.31px;top:689px;transform:scaleX(0.9569)">cross</div>
<div class="t" style="left:185.15px;top:689px;transform:scaleX(1.0160)">allergy</div>
<div class="t" style="left:228.18px;top:689px;transform:scaleX(0.9788)">based</div>
<div class="t" style="left:266.97px;top:689px;transform:scaleX(1.0119)">on</div>
<div class="t" style="left:285.72px;top:689px;transform:scaleX(1.0642)">similarity</div>
<div class="t" style="left:343.65px;top:689px;transform:scaleX(1.0145)">in</div>
<div class="t" style="left:358.03px;top:689px;transform:scaleX(0.8780)">R1</div>
<div class="t" style="left:376.75px;top:689px;transform:scaleX(1.0420)">or</div>
<div class="t" style="left:392.91px;top:689px;transform:scaleX(0.8780)">R2</div>
<div class="t" style="left:411.62px;top:689px;transform:scaleX(0.9768)">side</div>
<div class="t" style="left:439.05px;top:689px;transform:scaleX(0.9831)">chains</div>
<div class="t" style="left:480.10px;top:689px;transform:scaleX(1.0420)">or</div>
<div class="t" style="left:496.27px;top:689px;transform:scaleX(1.0201)">clinical</div>
<div class="t" style="left:540.18px;top:689px;transform:scaleX(1.0111)">studies</div>
<div class="t" style="left:94.10px;top:711px;transform:scaleX(0.9866)">No</div>
<div class="t" style="left:114.62px;top:711px;transform:scaleX(0.9933)">risk</div>
<div class="t" style="left:138.82px;top:711px;transform:scaleX(1.0523)">of</div>
<div class="t" style="left:154.34px;top:711px;transform:scaleX(0.8606)">a</div>
<div class="t" style="left:164.68px;top:711px;transform:scaleX(0.9569)">cross</div>
<div class="t" style="left:198.52px;top:711px;transform:scaleX(1.0158)">allergic</div>
<div class="t" style="left:244.48px;top:711px;transform:scaleX(1.0499)">reaction</div>
</body></html>
